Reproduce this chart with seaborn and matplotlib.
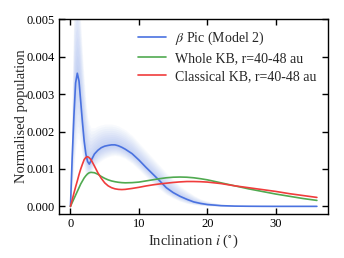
import numpy as np
import pandas as pd
import matplotlib
matplotlib.use("Agg")
import matplotlib.pyplot as plt
import seaborn as sns

# inclination grid (deg)
incl = [0, 0.25, 0.5, 0.75, 1.0, 1.25, 1.5, 1.75, 2.0, 2.25, 2.5, 2.75, 3.0, 3.5,
        4, 4.5, 5, 5.5, 6, 6.5, 7, 7.5, 8, 9, 10, 11, 12, 13, 14, 15, 16, 17, 18,
        19, 20, 22, 24, 26, 28, 30, 32, 34, 36]

# beta Pic (Model 2) median, x1e-3
beta_med = [0, 1.3, 2.4, 3.3, 3.56, 3.35, 2.8, 2.25, 1.75, 1.4, 1.2, 1.13, 1.22, 1.4,
            1.5, 1.57, 1.61, 1.63, 1.645, 1.645, 1.62, 1.58, 1.53, 1.41, 1.24, 1.05,
            0.87, 0.69, 0.5, 0.37, 0.27, 0.19, 0.12, 0.08, 0.05, 0.02, 0.008, 0.004,
            0.002, 0.001, 0.001, 0.001, 0.001]
# spread of the individual model realisations, x1e-3
beta_hi = [0, 3.0, 5.5, 6.0, 6.0, 5.6, 4.9, 4.1, 3.4, 2.8, 2.4, 2.2, 2.1, 2.1,
           2.15, 2.18, 2.2, 2.2, 2.2, 2.18, 2.15, 2.1, 2.05, 1.9, 1.7, 1.5, 1.3,
           1.1, 0.9, 0.72, 0.55, 0.42, 0.3, 0.2, 0.14, 0.06, 0.03, 0.015, 0.008,
           0.005, 0.004, 0.003, 0.003]
beta_lo = [0, 0.5, 1.0, 1.5, 1.8, 1.8, 1.6, 1.3, 1.0, 0.85, 0.8, 0.85, 0.92, 1.05,
           1.15, 1.22, 1.28, 1.32, 1.35, 1.36, 1.35, 1.32, 1.28, 1.15, 0.98, 0.8,
           0.62, 0.46, 0.32, 0.22, 0.14, 0.08, 0.05, 0.03, 0.015, 0.005, 0.002,
           0.001, 0, 0, 0, 0, 0]

# Whole KB, r=40-48 au, x1e-3
whole_kb = [0, 0.1, 0.2, 0.3, 0.4, 0.5, 0.6, 0.68, 0.76, 0.82, 0.87, 0.9, 0.91, 0.9,
            0.86, 0.8, 0.75, 0.71, 0.68, 0.66, 0.645, 0.635, 0.63, 0.635, 0.65,
            0.68, 0.71, 0.74, 0.765, 0.78, 0.785, 0.78, 0.765, 0.74, 0.71, 0.63,
            0.55, 0.47, 0.4, 0.33, 0.27, 0.21, 0.16]
# Classical KB, r=40-48 au, x1e-3
classical_kb = [0, 0.17, 0.35, 0.52, 0.68, 0.85, 1.0, 1.13, 1.25, 1.31, 1.33, 1.3,
                1.25, 1.08, 0.9, 0.75, 0.63, 0.55, 0.5, 0.47, 0.455, 0.45, 0.455,
                0.48, 0.51, 0.545, 0.575, 0.6, 0.62, 0.64, 0.655, 0.665, 0.665,
                0.66, 0.65, 0.61, 0.55, 0.5, 0.45, 0.4, 0.34, 0.29, 0.24]

labels = [r"$\beta$ Pic (Model 2)", "Whole KB, r=40-48 au", "Classical KB, r=40-48 au"]
colors = ["#4a72e0", "#50aa50", "#f03c3c"]

df = pd.DataFrame({
    "incl": incl,
    labels[0]: np.array(beta_med) * 1e-3,
    labels[1]: np.array(whole_kb) * 1e-3,
    labels[2]: np.array(classical_kb) * 1e-3,
})
long = df.melt(id_vars="incl", var_name="model", value_name="pop")

sns.set_theme(style="ticks")
plt.rcParams["font.family"] = ["Liberation Serif", "DejaVu Serif"]
plt.rcParams["mathtext.fontset"] = "stix"

fig = plt.figure(figsize=(3.44, 2.58), dpi=100)
ax = fig.add_axes([0.171, 0.171, 0.782, 0.754])

# faint haze standing in for the many realisations
med = np.array(beta_med) * 1e-3
hi = np.array(beta_hi) * 1e-3
lo = np.array(beta_lo) * 1e-3
for f in np.linspace(1.0, 0.1, 10):
    ax.fill_between(incl, med - f * (med - lo), med + f * (hi - med),
                    color=colors[0], alpha=0.035, lw=0)

sns.lineplot(data=long, x="incl", y="pop", hue="model", palette=colors,
             hue_order=labels, lw=1.2, ax=ax)

ax.set_xlim(-1.7, 37.6)
ax.set_ylim(-0.0002, 0.005)
ax.set_xticks([0, 10, 20, 30])
ax.set_yticks([0.000, 0.001, 0.002, 0.003, 0.004, 0.005])
ax.set_yticklabels(["0.000", "0.001", "0.002", "0.003", "0.004", "0.005"])
ax.tick_params(direction="in", top=True, right=True, length=4, width=1,
               labelsize=9, colors="black", pad=3)
for s in ax.spines.values():
    s.set_linewidth(1.0)
    s.set_color("black")
ax.set_xlabel(r"Inclination $i$ ($^{\circ}$)", fontsize=10.5, labelpad=2)
ax.set_ylabel("Normalised population", fontsize=10.5)
ax.yaxis.set_label_coords(-0.113, 0.5)

ax.legend(loc="upper left", bbox_to_anchor=(0.294, 0.945), frameon=False,
          fontsize=10, handlelength=2.0, handletextpad=0.7, borderaxespad=0,
          borderpad=0, labelspacing=0.35)

fig.savefig("out.png", dpi=100)
